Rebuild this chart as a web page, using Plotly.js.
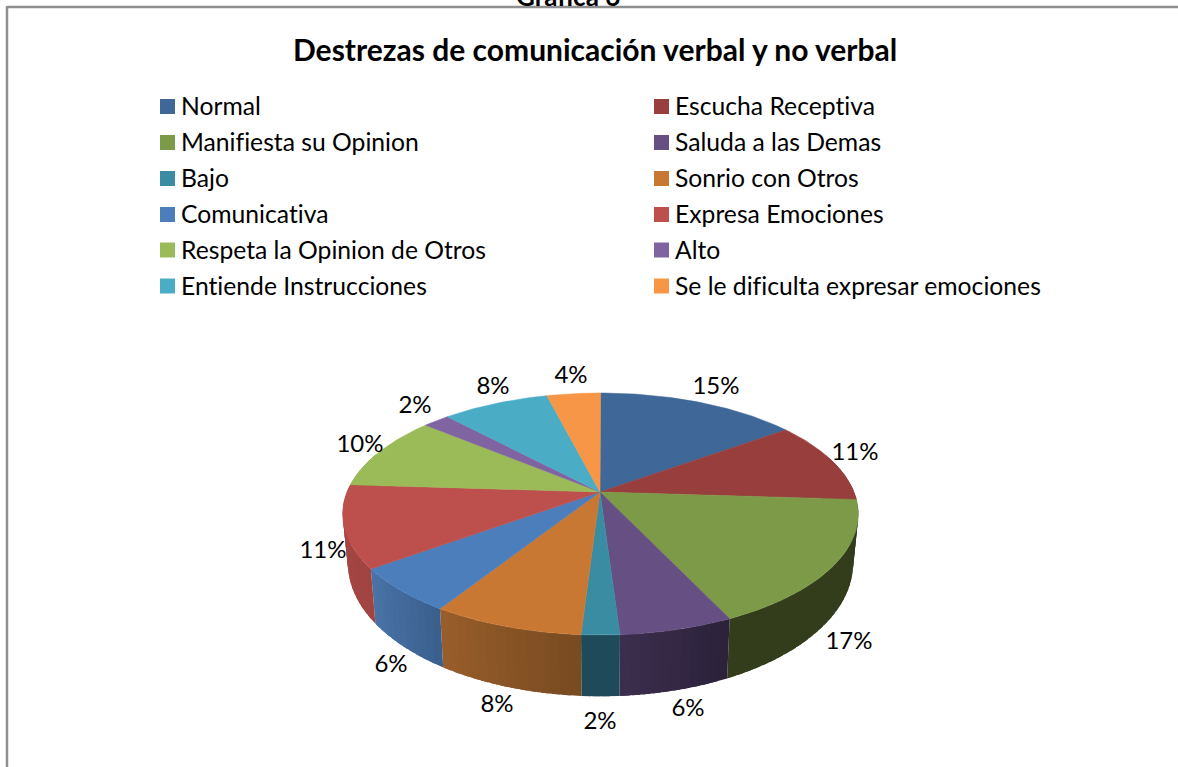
<!DOCTYPE html>
<html><head><meta charset="utf-8">
<script src="https://cdn.plot.ly/plotly-3.0.1.min.js"></script>
<style>html,body{margin:0;padding:0;background:#fff;overflow:hidden}
svg text{font-variant-ligatures:none;font-feature-settings:"liga" 0,"clig" 0}</style>
</head><body><div id="chart" style="width:1178px;height:767px"></div>
<script>
// ---- data ----
const categories = ["Normal","Escucha Receptiva","Manifiesta su Opinion","Saluda a las Demas","Bajo","Sonrio con Otros","Comunicativa","Expresa Emociones","Respeta la Opinion de Otros","Alto","Entiende Instrucciones","Se le dificulta expresar emociones"];
const percents = [15,11,17,6,2,8,6,11,10,2,8,4];
const topColors = ["#3F6797","#983F3D","#7D9A48","#664F82","#3A8CA3","#C97834","#4C7EBB","#BD4F4C","#9BBB59","#8064A2","#4BACC6","#F79646"];
const sideStart = ["#2f4d72","#722f2e","#333D1C","#2b2139","#1f4a59","#774a20","#3a5f8d","#a04442","#75903f","#5f4a7a","#38829a","#bd7030"];
const sideEnd   = ["#2f4d72","#722f2e","#333D1C","#3c2e4e","#1f4a59","#9a5e2b","#4a74a8","#a84644","#75903f","#5f4a7a","#38829a","#bd7030"];
const titleText = "Destrezas de comunicación verbal y no verbal";
const headText = "Gráfica 6";

// ---- layout constants ----
const W = 1178, H = 767;
const FONT = "Lato, Carlito, Calibri, sans-serif";
const LEG = {xs:[160,654], tx:[181,675], ys:[108.5,144.5,180.5,216.5,252.5,288.5], marks:[106.5,142.5,178.5,214.5,250,286], size:15, font:24.7};
const labelX = [716,855,849,688,600,497,391,323,360,415,493,571];
const labelY = [388,454,643,710,723,706,666,552,446,407,388,377];
const P = {cx:600.5, cy:492, B:253.5, A:117, k:0.182, sx:0.98, sy:1.1, d:47};

function topPt(angleDeg){
  const a = angleDeg*Math.PI/180, u=Math.sin(a), v=Math.cos(a), w=1+P.k*v;
  return [P.cx+P.B*u/w, P.cy-P.A*v/w];
}
function bottomPt(angleDeg){
  const t = topPt(angleDeg);
  return [P.cx+P.sx*(t[0]-P.cx), P.cy+P.sy*(t[1]-P.cy)+P.d];
}
function hex(c){return [1,3,5].map(i=>parseInt(c.substr(i,2),16));}
function mix(a,b,t){const A=hex(a),B=hex(b);return "rgb("+A.map((x,i)=>Math.round(x+(B[i]-x)*t)).join(",")+")";}

const traces = [];
const total = percents.reduce((s,v)=>s+v,0);
let start = 0;
const spans = percents.map(p=>{const s=start; start+=p/total*360; return [s,start];});
// side wall: overlapping segments so no seams show, drawn first
spans.forEach((sp,i)=>{
  const a0=Math.max(sp[0],70), a1=Math.min(sp[1],290);
  if(a1<=a0) return;
  const n=Math.max(1,Math.round((a1-a0)/2));
  for(let j=0;j<n;j++){
    const s=a0+(a1-a0)*j/n, e=Math.min(a1,a0+(a1-a0)*(j+1)/n+1.5);
    const xs=[],ys=[];
    for(let q=0;q<=4;q++){const t=topPt(s+(e-s)*q/4);xs.push(t[0]);ys.push(t[1]);}
    for(let q=4;q>=0;q--){const t=bottomPt(s+(e-s)*q/4);xs.push(t[0]);ys.push(t[1]);}
    const c=mix(sideStart[i],sideEnd[i],(j+0.5)/n);
    traces.push({type:"scatter",mode:"lines",x:xs,y:ys,fill:"toself",fillcolor:c,line:{width:0},hoverinfo:"skip",showlegend:false});
  }
});
// top face
spans.forEach((sp,i)=>{
  const xs=[P.cx-0.5],ys=[P.cy];
  const n=Math.max(2,Math.ceil(sp[1]-sp[0]));
  for(let j=0;j<=n;j++){const t=topPt(sp[0]+(sp[1]-sp[0])*j/n);xs.push(t[0]);ys.push(t[1]);}
  xs.push(P.cx-0.5);ys.push(P.cy);
  traces.push({type:"scatter",mode:"lines",x:xs,y:ys,fill:"toself",fillcolor:topColors[i],line:{color:topColors[i],width:0.5},hoverinfo:"skip",showlegend:false});
});
// data labels
traces.push({type:"scatter",mode:"text",x:labelX,y:labelY,text:percents.map(v=>v+"%"),textposition:"middle center",textfont:{family:FONT,size:24,color:"#000"},cliponaxis:false,hoverinfo:"skip",showlegend:false});
// legend
const legX=categories.map((_,i)=>LEG.xs[i%2]), legT=categories.map((_,i)=>LEG.tx[i%2]), legY=categories.map((_,i)=>LEG.ys[Math.floor(i/2)]), legM=categories.map((_,i)=>LEG.marks[Math.floor(i/2)]);
traces.push({type:"scatter",mode:"markers",x:legX.map(x=>x+LEG.size/2),y:legM,marker:{symbol:"square",size:LEG.size,color:topColors,line:{width:0}},hoverinfo:"skip",showlegend:false});
traces.push({type:"scatter",mode:"text",x:legT,y:legY,text:categories,textposition:"middle right",textfont:{family:FONT,size:LEG.font,color:"#000"},cliponaxis:false,hoverinfo:"skip",showlegend:false});

const layout = {
  width:W,height:H,autosize:false,margin:{l:0,r:0,t:0,b:0},paper_bgcolor:"#fff",plot_bgcolor:"#fff",showlegend:false,hovermode:false,
  xaxis:{range:[0,W],visible:false,fixedrange:true,domain:[0,1]},
  yaxis:{range:[H,0],visible:false,fixedrange:true,domain:[0,1]},
  shapes:[
    {type:"line",xref:"paper",yref:"paper",x0:7/W,x1:1,y0:1-7/H,y1:1-7/H,line:{color:"#8f8f8f",width:2.5}},
    {type:"line",xref:"paper",yref:"paper",x0:7/W,x1:7/W,y0:1-6/H,y1:0,line:{color:"#8f8f8f",width:2.5}}
  ],
  annotations:[
    {xref:"paper",yref:"paper",x:594.5/W,y:1-49.5/H,text:"<b>"+titleText+"</b>",showarrow:false,xanchor:"center",yanchor:"middle",font:{family:FONT,size:30,color:"#000"}},
    {xref:"paper",yref:"paper",x:568/W,y:1+4/H,text:"<b>"+headText+"</b>",showarrow:false,xanchor:"center",yanchor:"middle",font:{family:FONT,size:26,color:"#000"}}
  ]
};
Plotly.newPlot("chart",traces,layout,{staticPlot:true,displayModeBar:false});
</script></body></html>
